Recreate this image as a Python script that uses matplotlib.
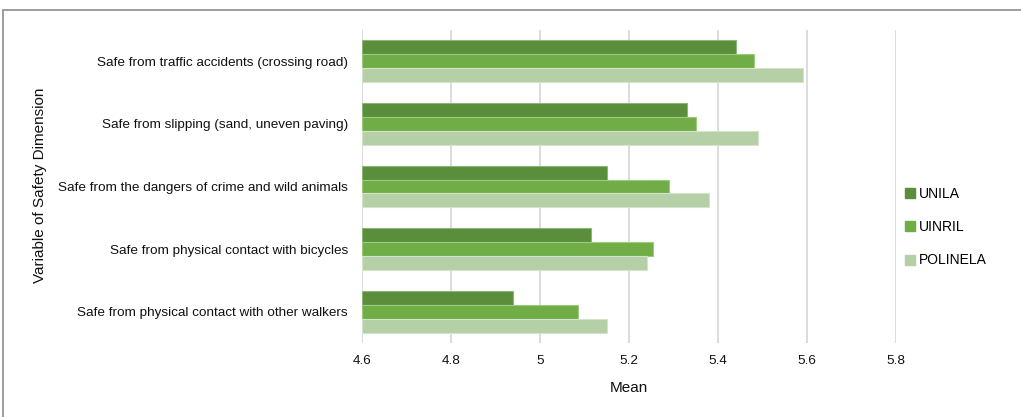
import matplotlib
matplotlib.use("Agg")
import matplotlib.pyplot as plt
from matplotlib.patches import Rectangle
from matplotlib.lines import Line2D
import numpy as np

plt.rcParams['font.family'] = ['Liberation Sans', 'DejaVu Sans']

categories = [
    "Safe from traffic accidents (crossing road)",
    "Safe from slipping (sand, uneven paving)",
    "Safe from the dangers of crime and wild animals",
    "Safe from physical contact with bicycles",
    "Safe from physical contact with other walkers",
]
series_names = ["UNILA", "UINRIL", "POLINELA"]
unila = [5.44, 5.33, 5.15, 5.115, 4.94]
uinril = [5.48, 5.35, 5.29, 5.255, 5.085]
polinela = [5.59, 5.49, 5.38, 5.24, 5.15]
x_ticks = [4.6, 4.8, 5.0, 5.2, 5.4, 5.6, 5.8]
x_tick_labels = ["4.6", "4.8", "5", "5.2", "5.4", "5.6", "5.8"]

colors = ["#5B8E3B", "#70AD47", "#B5D0A6"]
edges = ["#8DB57A", "#9CCB7E", "#D3E4CA"]

W, H = 1021, 417
fig = plt.figure(figsize=(W / 100, H / 100), dpi=100)
ax = fig.add_axes([362 / W, 1 - 343 / H, (896 - 362) / W, (343 - 30) / H])

base = 4.6
bar_h = 0.222
y = np.arange(len(categories))
for i, (vals, c, e) in enumerate(zip([unila, uinril, polinela], colors, edges)):
    offs = (i - 1) * bar_h
    ax.barh(y + offs, np.array(vals) - base, left=base, height=bar_h,
            color=c, edgecolor=e, linewidth=0.8, label=series_names[i], zorder=3)

ax.set_xlim(4.6, 5.8)
ax.set_ylim(len(categories) - 0.5, -0.5)
ax.set_xticks(x_ticks)
ax.set_xticklabels(x_tick_labels)
ax.set_yticks(y)
ax.set_yticklabels(categories)
ax.tick_params(axis='both', length=0, labelsize=9.7, colors="#111111")
ax.tick_params(axis='y', pad=10)
ax.tick_params(axis='x', pad=9)
ax.grid(axis='x', color="#DCDCDC", linewidth=1.4, zorder=0)
for s in ax.spines.values():
    s.set_visible(False)

ax.set_xlabel("Mean", fontsize=11, labelpad=10, color="#111111")
fig.text(40 / W, 1 - 185 / H, "Variable of Safety Dimension", rotation=90,
         ha='center', va='center', fontsize=11, color="#111111")

handles = [Line2D([], [], marker='s', linestyle='none', markersize=7,
                  markerfacecolor=c, markeredgecolor=c) for c in colors]
fig.legend(handles, series_names, loc='center left',
           bbox_to_anchor=(889 / W, 1 - 227 / H), frameon=False,
           fontsize=10, handletextpad=0.05, labelspacing=1.4,
           handlelength=1.2)

# outer chart frame
fig.patches.append(Rectangle((3 / W, -0.1), 1.2, 1.1 - 10 / H,
                             transform=fig.transFigure, fill=False,
                             edgecolor="#8C8C8C", linewidth=1.2))

fig.savefig("out.png", dpi=100)
